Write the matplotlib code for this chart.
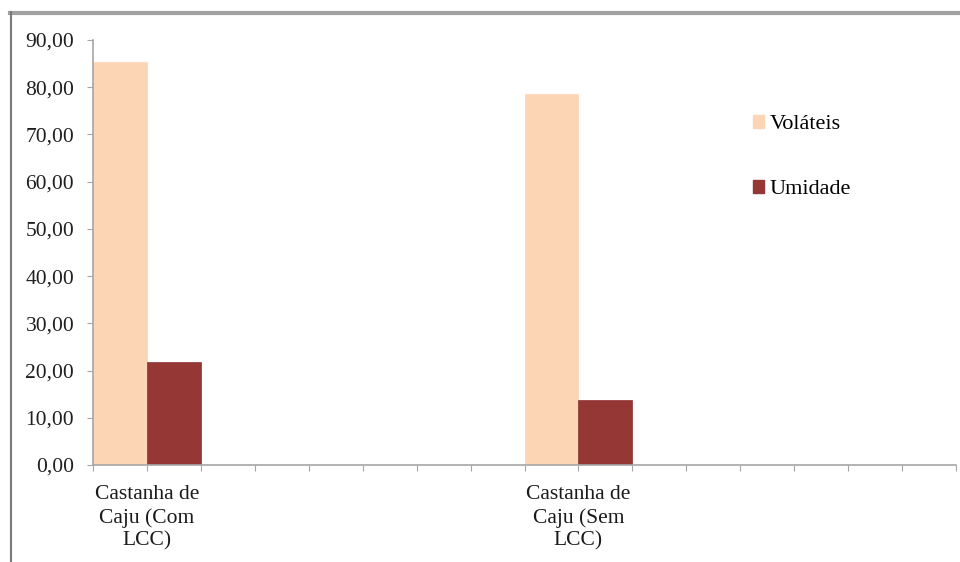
import matplotlib
matplotlib.use("Agg")
import matplotlib.pyplot as plt
from matplotlib.patches import Patch
from matplotlib.lines import Line2D

categories = ["Castanha de\nCaju (Com\nLCC)", "Castanha de\nCaju (Sem\nLCC)"]
volateis = [85.3, 78.6]
umidade = [21.8, 13.8]
series_names = ["Voláteis", "Umidade"]
yticks = [0, 10, 20, 30, 40, 50, 60, 70, 80, 90]

plt.rcParams['font.family'] = ['Liberation Serif', 'DejaVu Serif']

fig = plt.figure(figsize=(9.6, 5.62), dpi=100)
ax = fig.add_axes([93/960, (562-465)/562, (956-93)/960, (465-40)/562])

# category slots: each group occupies 8 tick intervals, bars span one interval each
group_span = 8
n_slots = group_span * len(categories)
centers = [i * group_span + 1 for i in range(len(categories))]

c_vol = "#FCD5B5"
c_umi = "#953735"
ax.bar([c - 1 for c in centers], volateis, width=1, align="edge", color=c_vol, edgecolor=c_vol, linewidth=0.5)
ax.bar(centers, umidade, width=1, align="edge", color=c_umi, edgecolor="#8a3030", linewidth=0.5)

ax.set_xlim(0, n_slots)
ax.set_ylim(0, 90)
ax.set_yticks(yticks)
ax.set_yticklabels([f"{v:.2f}".replace(".", ",") for v in yticks], fontsize=15.5, color="#1f1f1f")
ax.xaxis.remove_overlapping_locs = False
ax.set_xticks(range(n_slots + 1))
ax.set_xticklabels([])
ax.set_xticks(centers, minor=True)
ax.set_xticklabels(categories, minor=True, fontsize=15.5, color="#1a1a1a", linespacing=1.26)
ax.tick_params(axis="x", which="minor", length=0, pad=14.5)
ax.tick_params(axis="x", which="major", length=4.5, direction="out", color="#a6a6a6")
ax.tick_params(axis="y", length=4.5, direction="out", color="#a6a6a6", pad=9)

for s in ["top", "right"]:
    ax.spines[s].set_visible(False)
for s in ["left", "bottom"]:
    ax.spines[s].set_color("#a6a6a6")
    ax.spines[s].set_linewidth(1.2)

handles = [Patch(facecolor=c_vol, edgecolor=c_vol), Patch(facecolor=c_umi, edgecolor=c_umi)]
leg = fig.legend(handles, series_names, loc="upper left", bbox_to_anchor=(733/960, 1 - 95/562),
                 frameon=False, fontsize=16, handlelength=0.5, handleheight=0.5,
                 handletextpad=0.25, labelspacing=2.07)

# outer frame lines (top gray bar and left border)
fig.add_artist(Line2D([10/960, 1], [1 - 13/562, 1 - 13/562], color="#a0a0a0", linewidth=3))
fig.add_artist(Line2D([11/960, 11/960], [0, 1 - 12/562], color="#7a7a7a", linewidth=1.5))

fig.savefig("out.png", dpi=100)
